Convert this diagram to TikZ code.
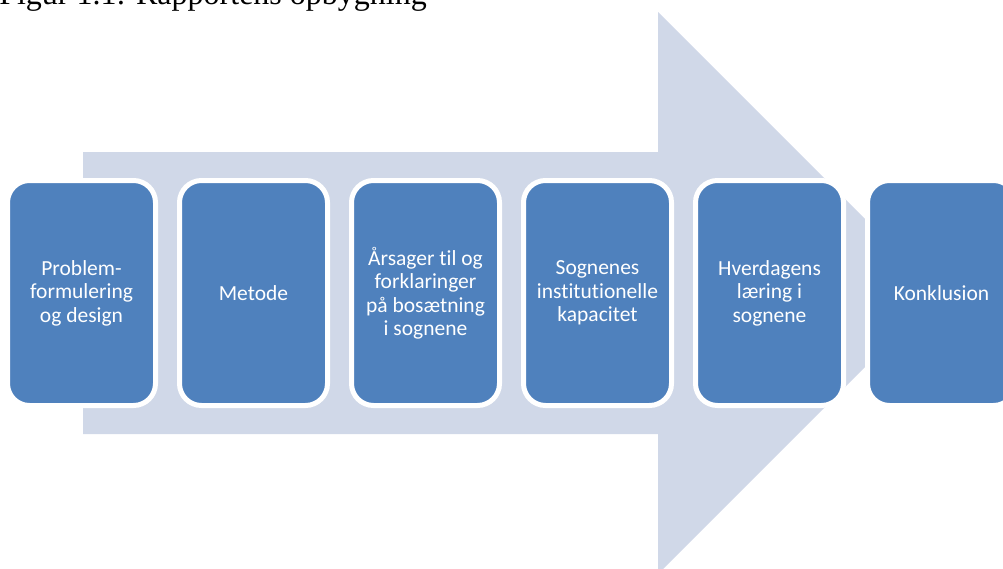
\documentclass[tikz,border=0pt]{standalone}
\usepackage{fontspec}
\setmainfont{Liberation Serif}
\newfontfamily\boxfont[Ligatures=CommonOff]{Carlito}
\definecolor{boxblue}{HTML}{4F81BD}
\definecolor{arrowgray}{HTML}{D0D8E8}
\tikzset{
  stagebox/.style={draw=white, line width=5pt, fill=boxblue, rounded corners=22pt,
    minimum width=148pt, minimum height=225pt, inner sep=0pt,
    text=white, align=center, font=\boxfont\fontsize{21.5}{23.5}\selectfont},
  bigarrow/.style={fill=arrowgray}
}
\begin{document}
\begin{tikzpicture}[x=1pt,y=-1pt]
\useasboundingbox (0,0) rectangle (1003,568);
\clip (0,0) rectangle (1003,568);
\node[anchor=base east, inner sep=0pt, font=\fontsize{32}{32}\selectfont] (title) at (427,4) {Figur 1.1: Rapportens opbygning};
\fill[bigarrow] (83,152) -- (658,152) -- (658,12) -- (939,293) -- (658,574) -- (658,434) -- (83,434) -- cycle;
\node[stagebox] (s1) at (81.5,293) {Problem-\\formulering\\og design};
\node[stagebox] (s2) at (253.5,293) {Metode};
\node[stagebox] (s3) at (425.5,293) {Årsager til og\\forklaringer\\på bosætning\\i sognene};
\node[stagebox] (s4) at (597.5,293) {Sognenes\\institutionelle\\kapacitet};
\node[stagebox] (s5) at (769.5,293) {Hverdagens\\læring i\\sognene};
\node[stagebox] (s6) at (941.5,293) {Konklusion};
\end{tikzpicture}
\end{document}
